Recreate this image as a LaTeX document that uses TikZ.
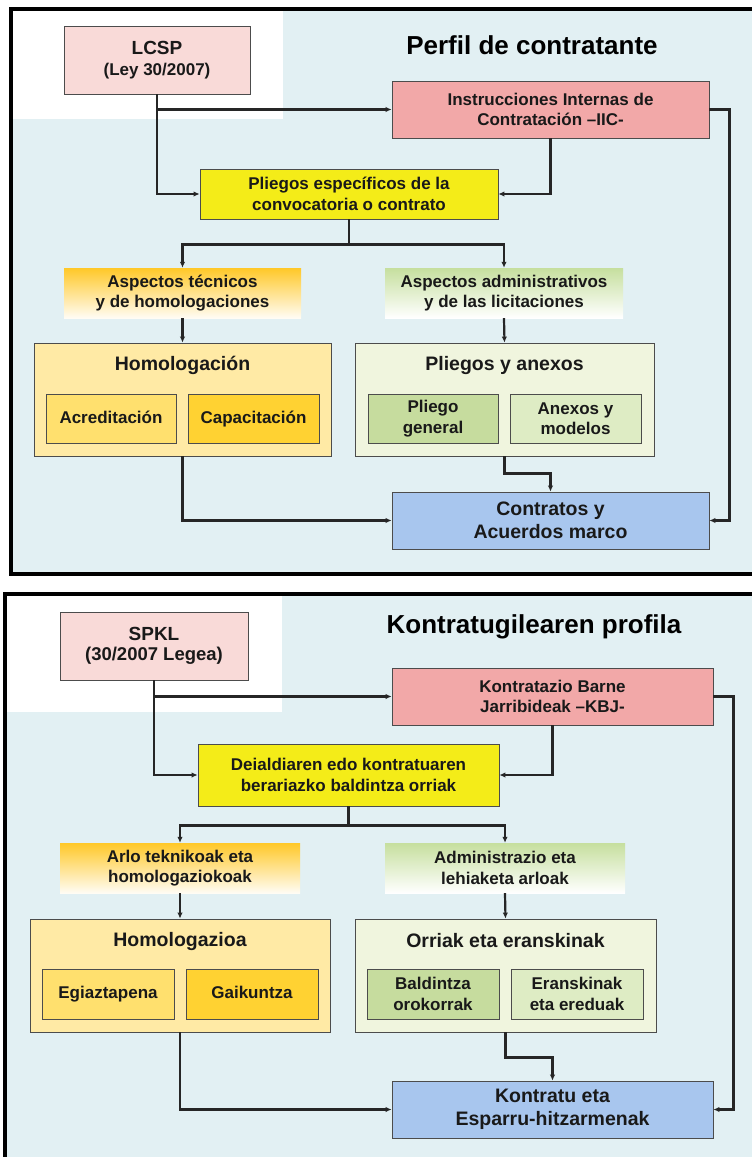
\documentclass[tikz,border=0pt]{standalone}
\usepackage{fontspec}
\setmainfont{Liberation Sans}
\usetikzlibrary{arrows.meta}
\definecolor{bgblue}{RGB}{226,240,243}
\definecolor{lawpink}{RGB}{249,218,216}
\definecolor{rulered}{RGB}{242,168,168}
\definecolor{specyellow}{RGB}{244,236,24}
\definecolor{techorange}{RGB}{255,200,40}
\definecolor{techpale}{RGB}{255,252,244}
\definecolor{admgreen}{RGB}{198,223,158}
\definecolor{homyellow}{RGB}{255,234,165}
\definecolor{accyellow}{RGB}{255,224,110}
\definecolor{capyellow}{RGB}{255,210,50}
\definecolor{docgreen}{RGB}{240,245,222}
\definecolor{gengreen}{RGB}{198,220,158}
\definecolor{anxgreen}{RGB}{222,236,196}
\definecolor{contrblue}{RGB}{168,198,238}
\tikzset{
	every node/.style = {font=\bfseries\fontsize{17}{20.5}\selectfont, text=black!90, align=center},
	box/.style = {draw=black!70, line width=0.8pt, inner sep=0pt},
	grad/.style = {inner sep=0pt},
	oneline/.style = {text height=12.5pt, text depth=3.5pt},
	bigtxt/.style = {font=\bfseries\fontsize{19.5}{23}\selectfont},
	heading/.style = {font=\bfseries\fontsize{26}{30}\selectfont, text=black},
	link/.style = {line width=2.2pt, black!85, -{Latex[length=6pt,width=5.5pt]}},
	panelframe/.style = {line width=4pt, black}
}

\begin{document}
\begin{tikzpicture}[x=1pt, y=-1pt]
		\useasboundingbox (0,0) rectangle (752,1157);
		% panel 1
		\fill[bgblue] (10.5,9) rectangle (752,574);
		\fill[white] (12.5,11) rectangle (283,119);
		\draw[panelframe] (752,9) -- (10.5,9) -- (10.5,574) -- (752,574);
		
		\node[heading] (title1) at (532,45) {Perfil de contratante};
		\node[box, fill=lawpink, minimum width=186, minimum height=68] (lcsp) at (157,60) {{\fontsize{19}{22}\selectfont LCSP}\\(Ley 30/2007)};
		\node[box, fill=rulered, minimum width=317, minimum height=57] (iic) at (550.5,109.5) {Instrucciones Internas de\\Contratación –IIC-};
		\node[box, fill=specyellow, minimum width=298, minimum height=50] (pliegos) at (349,194) {Pliegos específicos de la\\convocatoria o contrato};
		\node[grad, top color=techorange, bottom color=techpale, minimum width=237, minimum height=50] (tec) at (182.5,293) {Aspectos técnicos\\y de homologaciones};
		\node[grad, top color=admgreen, bottom color=white, minimum width=238, minimum height=50] (adm) at (504,293) {Aspectos administrativos\\y de las licitaciones};
		\node[box, fill=homyellow, minimum width=297, minimum height=113] (homol) at (182.5,399.5) {};
		\node[bigtxt] (homolt) at (182.5,365) {Homologación};
		\node[box, oneline, fill=accyellow, minimum width=130, minimum height=49] (acred) at (111,418.5) {Acreditación};
		\node[box, oneline, fill=capyellow, minimum width=131, minimum height=49] (capac) at (253.5,418.5) {Capacitación};
		\node[box, fill=docgreen, minimum width=299, minimum height=113] (pya) at (504.5,399.5) {};
		\node[bigtxt] (pyat) at (504.5,365) {Pliegos y anexos};
		\node[box, fill=gengreen, minimum width=130, minimum height=49] (pgen) at (433,418.5) {Pliego\\general};
		\node[box, fill=anxgreen, minimum width=131, minimum height=49] (anex) at (575.5,418.5) {Anexos y\\modelos};
		\node[box, bigtxt, fill=contrblue, minimum width=317, minimum height=57] (contr) at (550.5,520.5) {Contratos y\\Acuerdos marco};
		
		\draw[link] (lcsp.south) |- (iic.west);
		\draw[link] (lcsp.south) |- (pliegos.west);
		\draw[link] (iic.south) |- (pliegos.east);
		\draw[link] (iic.east) -- ++(20,0) |- (contr.east);
		\draw[link] (pliegos.south) -- ++(0,25) -| (tec.north);
		\draw[link] (pliegos.south) -- ++(0,25) -| (adm.north);
		\draw[link] (tec.south) -- (homol.north);
		\draw[link] (adm.south) -- (pya.north);
		\draw[link] (pya.south) -- ++(0,17) -| (contr.north);
		\draw[link] (homol.south) |- (contr.west);
		
		% panel 2
		\fill[bgblue] (4.5,593.5) rectangle (752,1160);
		\fill[white] (6.5,595.5) rectangle (282,712);
		\draw[panelframe] (752,593.5) -- (4.5,593.5) -- (4.5,1160);
		
		\node[heading] (title2) at (534,627) {Kontratugilearen profila};
		\node[box, fill=lawpink, minimum width=188, minimum height=68] (spkl) at (154,646) {{\fontsize{19}{22}\selectfont SPKL}\\{\fontsize{18.5}{22}\selectfont (30/2007 Legea)}};
		\node[box, fill=rulered, minimum width=321, minimum height=57] (kbj) at (552.5,696.5) {Kontratazio Barne\\Jarribideak –KBJ-};
		\node[box, fill=specyellow, minimum width=301, minimum height=62] (dei) at (348.5,775) {Deialdiaren edo kontratuaren\\berariazko baldintza orriak};
		\node[grad, top color=techorange, bottom color=techpale, minimum width=240, minimum height=50] (arlo) at (180,868) {Arlo teknikoak eta\\homologaziokoak};
		\node[grad, top color=admgreen, bottom color=white, minimum width=240, minimum height=50] (admz) at (505,868) {Administrazio eta\\lehiaketa arloak};
		\node[box, fill=homyellow, minimum width=300, minimum height=113] (homz) at (180,975.5) {};
		\node[bigtxt] (homzt) at (180,941) {Homologazioa};
		\node[box, oneline, fill=accyellow, minimum width=132, minimum height=50] (egi) at (108,994) {Egiaztapena};
		\node[box, oneline, fill=capyellow, minimum width=132, minimum height=50] (gai) at (252,994) {Gaikuntza};
		\node[box, fill=docgreen, minimum width=301, minimum height=113] (ore) at (505.5,975.5) {};
		\node[bigtxt] (oret) at (505.5,941) {Orriak eta eranskinak};
		\node[box, fill=gengreen, minimum width=132, minimum height=50] (bal) at (433,994) {Baldintza\\orokorrak};
		\node[box, fill=anxgreen, minimum width=132, minimum height=50] (era) at (577,994) {Eranskinak\\eta ereduak};
		\node[box, bigtxt, fill=contrblue, minimum width=321, minimum height=57] (kon) at (552.5,1109.5) {Kontratu eta\\Esparru-hitzarmenak};
		
		\draw[link] (spkl.south) |- (kbj.west);
		\draw[link] (spkl.south) |- (dei.west);
		\draw[link] (kbj.south) |- (dei.east);
		\draw[link] (kbj.east) -- ++(20,0) |- (kon.east);
		\draw[link] (dei.south) -- ++(0,19) -| (arlo.north);
		\draw[link] (dei.south) -- ++(0,19) -| (admz.north);
		\draw[link] (arlo.south) -- (homz.north);
		\draw[link] (admz.south) -- (ore.north);
		\draw[link] (ore.south) -- ++(0,25) -| (kon.north);
		\draw[link] (homz.south) |- (kon.west);
	\end{tikzpicture}
\end{document}
